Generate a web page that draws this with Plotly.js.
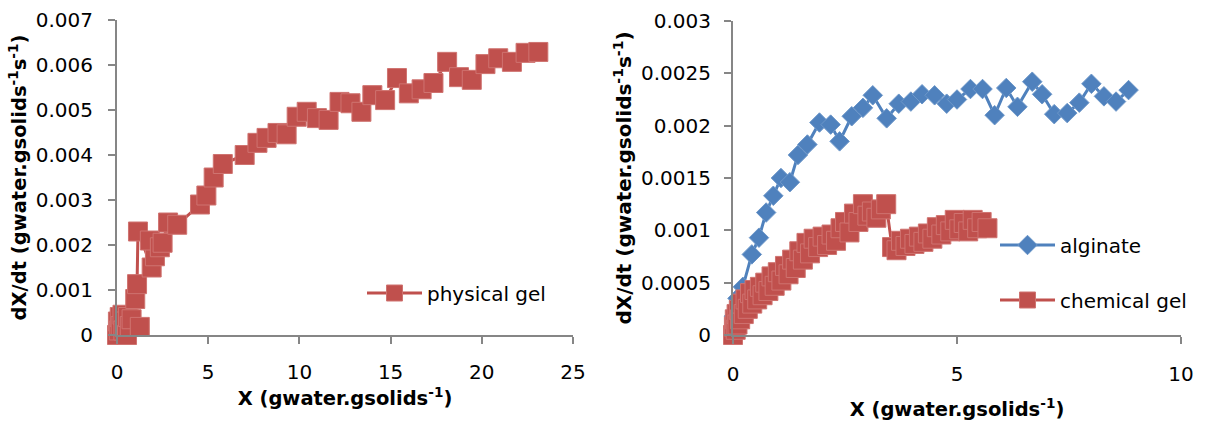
<!DOCTYPE html>
<html>
<head>
<meta charset="utf-8">
<script src="https://cdn.plot.ly/plotly-3.0.1.min.js"></script>
<style>html,body{margin:0;padding:0;background:#fff;}#chart{width:1205px;height:421px;}</style>
</head>
<body>
<div id="chart"></div>
<script>
// ---- data: physical gel (left chart) ----
const physX = [0, 0.05, 0.1, 0.15, 0.2, 0.3, 0.35, 0.45, 0.55, 0.6, 0.7, 0.8, 1.25, 1.0, 1.1, 1.15, 1.9, 2.08, 1.8, 2.35, 2.5, 2.8, 3.3, 4.55, 4.9, 5.3, 5.8, 7.0, 7.7, 8.2, 8.8, 9.3, 9.85, 10.4, 10.96, 11.6, 12.2, 12.8, 13.4, 14.0, 14.7, 15.35, 16.0, 16.7, 17.35, 18.1, 18.75, 19.45, 20.2, 20.9, 21.65, 22.4, 23.1];
const physY = [0, 0.0003, 0.0001, 0.0004, 0.0002, 0.00045, 0.0001, 0.0003, 0.0, 0.0004, 0.0002, 0.00035, 0.00018, 0.0008, 0.00113, 0.0023, 0.0015, 0.00175, 0.0021, 0.00195, 0.00205, 0.0025, 0.00245, 0.0029, 0.0031, 0.0035, 0.0038, 0.004, 0.00427, 0.00438, 0.00449, 0.00446, 0.00485, 0.00496, 0.00482, 0.00478, 0.00518, 0.00515, 0.00496, 0.00533, 0.00522, 0.00571, 0.00537, 0.00546, 0.0056, 0.00607, 0.00573, 0.00567, 0.00602, 0.00615, 0.00607, 0.00627, 0.00629];

// ---- data: alginate (right chart) ----
const algX = [0, 0.02, 0.1, 0.22, 0.42, 0.58, 0.74, 0.9, 1.07, 1.27, 1.45, 1.66, 1.93, 2.18, 2.38, 2.65, 2.9, 3.12, 3.43, 3.7, 3.97, 4.22, 4.5, 4.77, 5.0, 5.3, 5.57, 5.84, 6.1, 6.35, 6.68, 6.9, 7.17, 7.46, 7.73, 8.0, 8.28, 8.55, 8.83];
const algY = [0, 0.00018, 0.00035, 0.00046, 0.00077, 0.00093, 0.00117, 0.00133, 0.0015, 0.00146, 0.00172, 0.00182, 0.00203, 0.00201, 0.00185, 0.00209, 0.00217, 0.00229, 0.00207, 0.00221, 0.00223, 0.0023, 0.00229, 0.00221, 0.00225, 0.00235, 0.00235, 0.0021, 0.00236, 0.00218, 0.00242, 0.0023, 0.00211, 0.00212, 0.00222, 0.0024, 0.00228, 0.00223, 0.00234];

// ---- data: chemical gel (right chart) ----
const chemX = [0, 0.02, 0.04, 0.06, 0.08, 0.1, 0.13, 0.16, 0.2, 0.24, 0.28, 0.33, 0.38, 0.43, 0.48, 0.54, 0.6, 0.66, 0.72, 0.79, 0.86, 0.93, 1.0, 1.08, 1.16, 1.24, 1.32, 1.4, 1.48, 1.56, 1.64, 1.72, 1.8, 1.9, 2.0, 2.1, 2.2, 2.3, 2.4, 2.5, 2.6, 2.7, 2.8, 2.9, 3.0, 3.1, 3.2, 3.3, 3.42, 3.55, 3.65, 3.75, 3.85, 3.95, 4.05, 4.15, 4.25, 4.35, 4.45, 4.55, 4.65, 4.75, 4.85, 4.95, 5.05, 5.15, 5.25, 5.35, 5.45, 5.55, 5.68];
const chemY = [0, 0.00008, 0.00015, 0.00005, 0.0002, 0.0001, 0.00024, 0.00015, 0.0003, 0.0002, 0.00034, 0.00025, 0.0004, 0.0003, 0.00043, 0.00034, 0.00046, 0.00038, 0.0005, 0.00042, 0.00056, 0.00047, 0.0006, 0.00052, 0.00066, 0.00058, 0.00072, 0.00064, 0.0008, 0.00072, 0.00088, 0.00078, 0.00092, 0.00084, 0.00094, 0.00086, 0.00096, 0.0009, 0.00102, 0.00108, 0.00098, 0.00116, 0.00108, 0.00125, 0.00114, 0.00118, 0.00112, 0.0012, 0.00125, 0.00084, 0.00081, 0.0009, 0.00085, 0.00092, 0.00087, 0.00094, 0.00089, 0.00097, 0.00092, 0.00103, 0.00096, 0.00105, 0.00099, 0.0011, 0.00101, 0.00107, 0.00099, 0.0011, 0.00102, 0.00108, 0.00102];

// ---- tick labels ----
const leftYTicks = [0, 0.001, 0.002, 0.003, 0.004, 0.005, 0.006, 0.007];
const leftYText = ['0', '0.001', '0.002', '0.003', '0.004', '0.005', '0.006', '0.007'];
const leftXTicks = [0, 5, 10, 15, 20, 25];
const rightYTicks = [0, 0.0005, 0.001, 0.0015, 0.002, 0.0025, 0.003];
const rightYText = ['0', '0.0005', '0.001', '0.0015', '0.002', '0.0025', '0.003'];
const rightXTicks = [0, 5, 10];

const RED = '#C0504D', BLUE = '#4F81BD', AX = '#868686';
const FONT = 'DejaVu Sans, Verdana, sans-serif';
const W = 1205, H = 421;
const px = v => v / W, py = v => (H - v) / H;

const traces = [
  {x: physX, y: physY, xaxis: 'x', yaxis: 'y', name: 'physical gel', mode: 'lines+markers',
   line: {color: RED, width: 3}, marker: {symbol: 'square', size: 19, color: RED, line: {color: '#cf7370', width: 1}},
   cliponaxis: false, legend: 'legend'},
  {x: algX, y: algY, xaxis: 'x2', yaxis: 'y2', name: 'alginate', mode: 'lines+markers',
   line: {color: BLUE, width: 3}, marker: {symbol: 'diamond', size: 15, color: BLUE, line: {color: '#6d97c9', width: 1}},
   cliponaxis: false, legend: 'legend2'},
  {x: chemX, y: chemY, xaxis: 'x2', yaxis: 'y2', name: 'chemical gel', mode: 'lines+markers',
   line: {color: RED, width: 3}, marker: {symbol: 'square', size: 19, color: RED, line: {color: '#cf7370', width: 1}},
   cliponaxis: false, legend: 'legend3'}
];

const axBase = {showgrid: false, zeroline: false, showline: true, linecolor: AX, linewidth: 2,
  ticks: 'outside', ticklen: 7, tickwidth: 2, tickcolor: AX, tickfont: {family: FONT, size: 20, color: '#000'}};
const tf = s => ({family: FONT, size: s, color: '#000', weight: 'bold'});
const legBase = {font: {family: FONT, size: 20, color: '#000'}, bgcolor: 'rgba(0,0,0,0)', itemwidth: 55, xanchor: 'left', yanchor: 'middle'};

const layout = {
  width: W, height: H, margin: {l: 0, r: 0, t: 0, b: 0}, paper_bgcolor: '#fff', plot_bgcolor: '#fff',
  showlegend: true,
  xaxis: Object.assign({}, axBase, {domain: [px(117), px(573)], range: [0, 25], anchor: 'y',
    tickvals: leftXTicks, ticklabelstandoff: 11,
    title: {text: 'X (gwater.gsolids<sup>-1</sup>)', font: tf(19.5), standoff: 3}}),
  yaxis: Object.assign({}, axBase, {domain: [py(335), py(20)], range: [0, 0.007], anchor: 'x',
    tickvals: leftYTicks, ticktext: leftYText, ticklabelstandoff: 11,
    title: {text: 'dX/dt (gwater.gsolids<sup>-1</sup>s<sup>-1</sup>)', font: tf(19.5), standoff: 4}}),
  xaxis2: Object.assign({}, axBase, {domain: [px(733), px(1181)], range: [0, 10], anchor: 'y2',
    tickvals: rightXTicks, ticklabelstandoff: 13,
    title: {text: 'X (gwater.gsolids<sup>-1</sup>)', font: tf(19.5), standoff: 18}}),
  yaxis2: Object.assign({}, axBase, {domain: [py(335), py(21)], range: [0, 0.003], anchor: 'x2',
    tickvals: rightYTicks, ticktext: rightYText, ticklabelstandoff: 9,
    title: {text: 'dX/dt (gwater.gsolids<sup>-1</sup>s<sup>-1</sup>)', font: tf(20), standoff: 4}}),
  legend: Object.assign({}, legBase, {x: px(362), y: py(293)}),
  legend2: Object.assign({}, legBase, {x: px(995), y: py(245)}),
  legend3: Object.assign({}, legBase, {x: px(995), y: py(300)})
};

Plotly.newPlot('chart', traces, layout, {staticPlot: true, displayModeBar: false});
</script>
</body>
</html>
